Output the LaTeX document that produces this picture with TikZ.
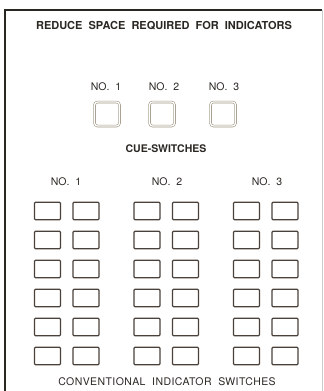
\documentclass[tikz,border=0pt]{standalone}
\usepackage{fontspec}
\setmainfont{TeX Gyre Heros}
\definecolor{panelink}{HTML}{2A2622}
\definecolor{boxink}{HTML}{4A423A}
\definecolor{cueink}{HTML}{9E9583}

\tikzset{
  heading/.style={font=\fontsize{11}{13}\selectfont\bfseries, text=panelink, inner sep=0pt},
  numlabel/.style={font=\fontsize{10.5}{12}\selectfont, text=panelink, inner sep=0pt},
  cuebox/.style={draw=cueink, line width=0.6pt, double=white, double distance=1.3pt,
    rounded corners=3pt, minimum width=25pt, minimum height=24pt, inner sep=0pt},
  swbox/.style={draw=boxink, line width=1.1pt, rounded corners=1pt,
    minimum width=26pt, minimum height=17.5pt, inner sep=0pt}
}

\begin{document}
\begin{tikzpicture}[x=1pt,y=-1pt]
  \useasboundingbox (0,0) rectangle (324,391);
  % panel frame
  \draw[panelink, line width=1.6pt] (5,392) -- (5,10) -- (322,10);
  \draw[gray!40, line width=0.5pt] (322,10) -- (322,392);

  \node[heading] (head) at (164,26) {REDUCE\ \ SPACE\ \ REQUIRED\ \ FOR\ \ INDICATORS};

  % cue-switches
  \node[numlabel] (cueno1) at (106,87) {NO.\ \ 1};
  \node[numlabel] (cueno2) at (164,87) {NO.\ \ 2};
  \node[numlabel] (cueno3) at (224,87) {NO.\ \ 3};
  \node[cuebox] (cue1) at (107,114) {};
  \node[cuebox] (cue2) at (162,114) {};
  \node[cuebox] (cue3) at (223,114) {};
  \node[heading, font=\fontsize{10.5}{12}\selectfont\bfseries] (cuetitle) at (166,149) {CUE-SWITCHES};

  % conventional indicator switches
  \node[numlabel] (swno1) at (66,182) {NO.\ \ 1};
  \node[numlabel] (swno2) at (167,182) {NO.\ \ 2};
  \node[numlabel] (swno3) at (267,182) {NO.\ \ 3};
  \foreach \g/\gx in {1/47.5,2/147,3/246.5}
    \foreach \r in {0,...,5} {
      \node[swbox] (sw\g-\r-a) at (\gx,211+29*\r) {};
      \node[swbox] (sw\g-\r-b) at (\gx+38.5,211+29*\r) {};
    }
  \node[numlabel, font=\fontsize{10.5}{12}\selectfont\addfontfeature{LetterSpace=4}] (foot) at (167,382)
    {CONVENTIONAL\ \ INDICATOR\ \ SWITCHES};
\end{tikzpicture}
\end{document}
